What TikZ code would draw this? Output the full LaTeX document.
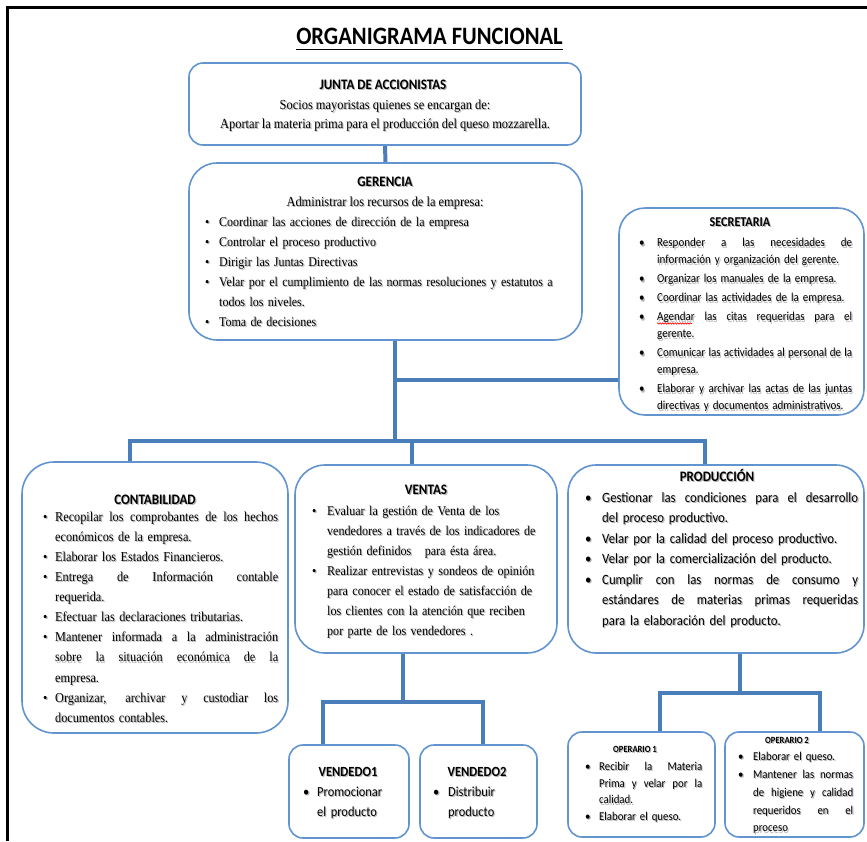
\documentclass[tikz,border=0pt]{standalone}
\usepackage{fontspec}
\setmainfont{Liberation Serif}[FakeStretch=0.9]
\newfontfamily\calibri{Carlito}[FakeStretch=0.9]
\usetikzlibrary{backgrounds,decorations.pathmorphing}

\definecolor{boxline}{RGB}{98,148,208}
\definecolor{linkblue}{RGB}{74,126,187}
\definecolor{shade}{RGB}{180,180,180}

% bullet column width and justified line width
\newlength\bind
\newlength\jw
\newcommand\bu{\strut\makebox[\bind][l]{\textbullet}}
\newcommand\ind{\strut\hspace*{\bind}}
\newcommand\ju[1]{{\spaceskip=\fontdimen2\font plus 1fil\makebox[\jw][s]{#1}}}

% text with a soft drop shadow: options, position, name, text
\newcommand\tnode[4]{%
  \node[#1, text=shade, shift={(1.1,1.1)}] (#3-sh) at (#2) {#4};
  \node[#1] (#3) at (#2) {#4};}

\tikzset{
  orgbox/.style={draw=boxline, line width=1.6pt, fill=white, rounded corners=#1, inner sep=0pt},
  link/.style={draw=linkblue, line width=4pt, line join=miter},
  head/.style={font=\calibri\bfseries\fontsize{14.5}{17}\selectfont, inner sep=0pt, anchor=base},
  lead/.style={font=\fontsize{13.8}{20}\selectfont, inner sep=0pt, anchor=base},
  body/.style={anchor=north west, inner sep=0pt, align=left, text width=#1},
}

\begin{document}
\begin{tikzpicture}[x=1pt,y=-1pt]
\useasboundingbox (0,0) rectangle (867,841);

% page frame
\draw[line width=3pt] (7,841) -- (7,7.5) -- (867,7.5);

% title
\node[font=\calibri\bfseries\fontsize{25}{30}\selectfont, inner sep=0pt, anchor=base] (title) at (429.5,44) {ORGANIGRAMA FUNCIONAL};
\draw[line width=1.8pt] ([yshift=-5.5pt]title.base west) -- ([yshift=-5.5pt]title.base east);

% ---------- Junta de accionistas
\node[orgbox=14pt, minimum width=392pt, minimum height=82pt] (junta) at (385,104) {};
\tnode{head}{383,89.7}{juntah}{JUNTA DE ACCIONISTAS}
\tnode{lead}{385,109}{junta1}{Socios mayoristas quienes se encargan de:}
\tnode{lead}{385,128}{junta2}{Aportar la materia prima para el producción del queso mozzarella.}

% ---------- Gerencia
\node[orgbox=28pt, minimum width=393pt, minimum height=177pt] (ger) at (385.5,251.5) {};
\tnode{head}{385,186.7}{gerh}{GERENCIA}
\tnode{lead}{385,206}{ger1}{Administrar los recursos de la empresa:}
\tnode{body=370pt, font=\fontsize{13.3}{20.1}\selectfont}{205,212}{gerb}
{\setlength\bind{14pt}%
\bu Coordinar las acciones de dirección de la empresa\\
\bu Controlar el proceso productivo\\
\bu Dirigir las Juntas Directivas\\
\bu Velar por el cumplimiento de las normas resoluciones y estatutos a\\
\ind todos los niveles.\\
\bu Toma de decisiones}

% ---------- Secretaria
\node[orgbox=26pt, minimum width=245pt, minimum height=207pt] (sec) at (741.5,311.5) {};
\tnode{head, font=\calibri\bfseries\fontsize{13.5}{16}\selectfont}{740,226.5}{sech}{SECRETARIA}
\tnode{body=230pt, font=\calibri\fontsize{12.2}{17}\selectfont}{639,234.8}{secb}
{\setlength\bind{18pt}\setlength\jw{195pt}%
\bu\ju{Responder a las necesidades de}\\
\ind información y organización del gerente.\\[2pt]
\bu Organizar los manuales de la empresa.\\[2pt]
\bu Coordinar las actividades de la empresa.\\[2pt]
\bu\ju{Agendar las citas requeridas para el}\\
\ind gerente.\\[2pt]
\bu\ju{Comunicar las actividades al personal de la}\\
\ind empresa.\\[2pt]
\bu\ju{Elaborar y archivar las actas de las juntas}\\
\ind directivas y documentos administrativos.}
% spell-check mark under "Agendar"
\draw[red, line width=0.6pt, decorate, decoration={snake, amplitude=0.7pt, segment length=2.5pt}] (657,323.5) -- (692,323.5);

% ---------- Contabilidad
\node[orgbox=32pt, minimum width=266pt, minimum height=271pt] (cont) at (155,597.5) {};
\tnode{head}{155,504.6}{conth}{CONTABILIDAD}
\tnode{body=240pt, font=\fontsize{13.6}{20.1}\selectfont}{43,507}{contb}
{\setlength\bind{12pt}\setlength\jw{223pt}%
\bu\ju{Recopilar los comprobantes de los hechos}\\
\ind económicos de la empresa.\\
\bu Elaborar los Estados Financieros.\\
\bu\ju{Entrega de Información contable}\\
\ind requerida.\\
\bu Efectuar las declaraciones tributarias.\\
\bu\ju{Mantener informada a la administración}\\
\ind\ju{sobre la situación económica de la}\\
\ind empresa.\\
\bu\ju{Organizar, archivar y custodiar los}\\
\ind documentos contables.}

% ---------- Ventas
\node[orgbox=30pt, minimum width=262pt, minimum height=188pt] (ven) at (426,559) {};
\tnode{head}{426,494.5}{venh}{VENTAS}
\tnode{body=240pt, font=\fontsize{13.4}{20.1}\selectfont}{312,501}{venb}
{\setlength\bind{15pt}%
\bu Evaluar la gestión de Venta de los\\
\ind vendedores a través de los indicadores de\\
\ind gestión definidos\ \ \ para ésta área.\\
\bu Realizar entrevistas y sondeos de opinión\\
\ind para conocer el estado de satisfacción de\\
\ind los clientes con la atención que reciben\\
\ind por parte de los vendedores .}

% ---------- Produccion
\node[orgbox=28pt, minimum width=296pt, minimum height=188pt] (prod) at (716,559) {};
\tnode{head}{717,481.6}{prodh}{PRODUCCIÓN}
\tnode{body=280pt, font=\calibri\fontsize{14.2}{20.5}\selectfont}{585,487.8}{prodb}
{\setlength\bind{17pt}\setlength\jw{256pt}%
\bu\ju{Gestionar las condiciones para el desarrollo}\\
\ind del proceso productivo.\\
\bu Velar por la calidad del proceso productivo.\\
\bu Velar por la comercialización del producto.\\
\bu\ju{Cumplir con las normas de consumo y}\\
\ind\ju{estándares de materias primas requeridas}\\
\ind para la elaboración del producto.}

% ---------- Vendedores
\node[orgbox=14pt, minimum width=120pt, minimum height=93pt] (vend1) at (349,791.5) {};
\tnode{head, font=\calibri\bfseries\fontsize{14}{17}\selectfont}{348,776.5}{vend1h}{VENDEDO1}
\tnode{body=100pt, font=\calibri\fontsize{13.8}{20}\selectfont}{303,782}{vend1b}
{\setlength\bind{14pt}%
\bu Promocionar\\
\ind el producto}

\node[orgbox=14pt, minimum width=117pt, minimum height=93pt] (vend2) at (478.5,791.5) {};
\tnode{head, font=\calibri\bfseries\fontsize{14}{17}\selectfont}{477,776.5}{vend2h}{VENDEDO2}
\tnode{body=100pt, font=\calibri\fontsize{13.8}{20}\selectfont}{433,782}{vend2b}
{\setlength\bind{15pt}%
\bu Distribuir\\
\ind producto}

% ---------- Operarios
\node[orgbox=14pt, minimum width=147pt, minimum height=105pt] (op1) at (641.5,784.5) {};
\tnode{head, font=\calibri\bfseries\fontsize{9.5}{12}\selectfont}{635,752}{op1h}{OPERARIO 1}
\tnode{body=125pt, font=\calibri\fontsize{12}{16.7}\selectfont}{585,758.6}{op1b}
{\setlength\bind{14pt}\setlength\jw{103pt}%
\bu\ju{Recibir la Materia}\\
\ind\ju{Prima y velar por la}\\
\ind calidad.\\
\bu Elaborar el queso.}

\node[orgbox=14pt, minimum width=139pt, minimum height=105pt] (op2) at (794.5,784.5) {};
\tnode{head, font=\calibri\bfseries\fontsize{9.5}{12}\selectfont}{787,743}{op2h}{OPERARIO 2}
\tnode{body=125pt, font=\calibri\fontsize{12}{17.8}\selectfont}{738,748.1}{op2b}
{\setlength\bind{15pt}\setlength\jw{100pt}%
\bu Elaborar el queso.\\
\bu\ju{Mantener las normas}\\
\ind\ju{de higiene y calidad}\\
\ind\ju{requeridos en el}\\
\ind proceso}

% ---------- connectors
\coordinate (gd) at (395,441);
\coordinate (sj) at (395,380);
\coordinate (bl) at (130,441);
\coordinate (br) at (705,441);
\coordinate (vt) at (412,441);
\coordinate (vb) at (403,702);
\coordinate (v1) at (323,702);
\coordinate (v2) at (483,702);
\coordinate (pb) at (740,693);
\coordinate (o1) at (660,693);
\coordinate (o2) at (820,693);

\begin{scope}[on background layer]
  \draw[link] (junta.south) -- (ger.north);
  \draw[link] (ger.south -| gd) -- (gd);
  \draw[link] (sj) -- (sj -| sec.west);
  \draw[link] (bl |- cont.north) -- (bl) -- (br) -- (br |- prod.north);
  \draw[link] (vt) -- (vt |- ven.north);
  \draw[link] (ven.south -| vb) -- (vb);
  \draw[link] (v1 |- vend1.north) -- (v1) -- (v2) -- (v2 |- vend2.north);
  \draw[link] (prod.south -| pb) -- (pb);
  \draw[link] (o1 |- op1.north) -- (o1) -- (o2) -- (o2 |- op2.north);
\end{scope}
\end{tikzpicture}
\end{document}
